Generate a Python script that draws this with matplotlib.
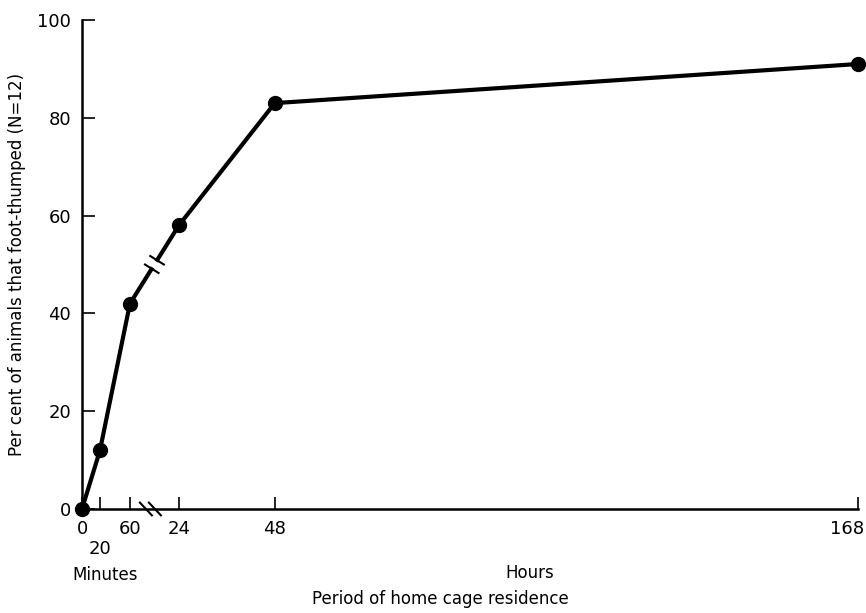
import matplotlib.pyplot as plt
import numpy as np

# data
time_labels = ['0', '20', '60', '24', '48', '168']   # minutes, then hours
percent = [0, 12, 42, 58, 83, 91]
y_ticks = [0, 20, 40, 60, 80, 100]

# horizontal placement of each time on the (broken) axis
x_pos = [0, 18, 48, 97, 193, 777]

plt.rcParams['font.family'] = ['DejaVu Sans']

fig = plt.figure(figsize=(8.66, 6.13), dpi=100)
ax = fig.add_axes([82 / 866, 1 - 509 / 613, 776 / 866, 489 / 613])

ax.set_xlim(0, 777)
ax.set_ylim(0, 100)

ax.plot(x_pos, percent, color='black', linewidth=3, marker='o', markersize=10,
        clip_on=False, zorder=3)

ax.spines['top'].set_visible(False)
ax.spines['right'].set_visible(False)
for s in ['left', 'bottom']:
    ax.spines[s].set_linewidth(1.8)

ax.set_yticks(y_ticks)
ax.set_yticklabels([str(v) for v in y_ticks])
ax.set_xticks(x_pos)
ax.set_xticklabels([t if t not in ('20', '168') else '' for t in time_labels])
ax.tick_params(axis='both', direction='in', length=9, width=1.2, labelsize=13)
ax.tick_params(axis='y', pad=8)
ax.tick_params(axis='x', pad=8)

# staggered "20" label and the right-most "168"
ax.text(x_pos[1], -6.3, time_labels[1], ha='center', va='top', fontsize=13,
        clip_on=False)
ax.text(x_pos[5] + 6, -2.2, time_labels[5], ha='right', va='top', fontsize=13,
        clip_on=False)

# break marks on the x axis
for dx in [0, 9]:
    ax.plot([58 + dx, 70 + dx], [1.3, -1.3], color='black', lw=1.5, clip_on=False)

# break marks on the curve between 60 min and 24 h
fig.canvas.draw()
p1 = ax.transData.transform((x_pos[2], percent[2]))
p2 = ax.transData.transform((x_pos[3], percent[3]))
mid = (p1 + p2) / 2
d = (p2 - p1) / np.linalg.norm(p2 - p1)
n = np.array([d[1], -d[0]])
inv = ax.transData.inverted()
for off in [-5, 5]:
    c = mid + d * off
    a = inv.transform(c - n * 8)
    b = inv.transform(c + n * 8)
    ax.plot([a[0], b[0]], [a[1], b[1]], color='black', lw=1.5, zorder=4)
g1 = inv.transform(mid - d * 3.5)
g2 = inv.transform(mid + d * 3.5)
ax.plot([g1[0], g2[0]], [g1[1], g2[1]], color='white', lw=4, zorder=3.5,
        solid_capstyle='butt')

ax.set_ylabel('Per cent of animals that foot-thumped (N=12)', fontsize=12, labelpad=8)

fig.text(105 / 866, 1 - 575 / 613, 'Minutes', ha='center', va='center', fontsize=12)
fig.text(530 / 866, 1 - 573 / 613, 'Hours', ha='center', va='center', fontsize=12)
fig.text(440 / 866, 1 - 599 / 613, 'Period of home cage residence', ha='center',
         va='center', fontsize=12)

plt.savefig('out.png', dpi=100)
